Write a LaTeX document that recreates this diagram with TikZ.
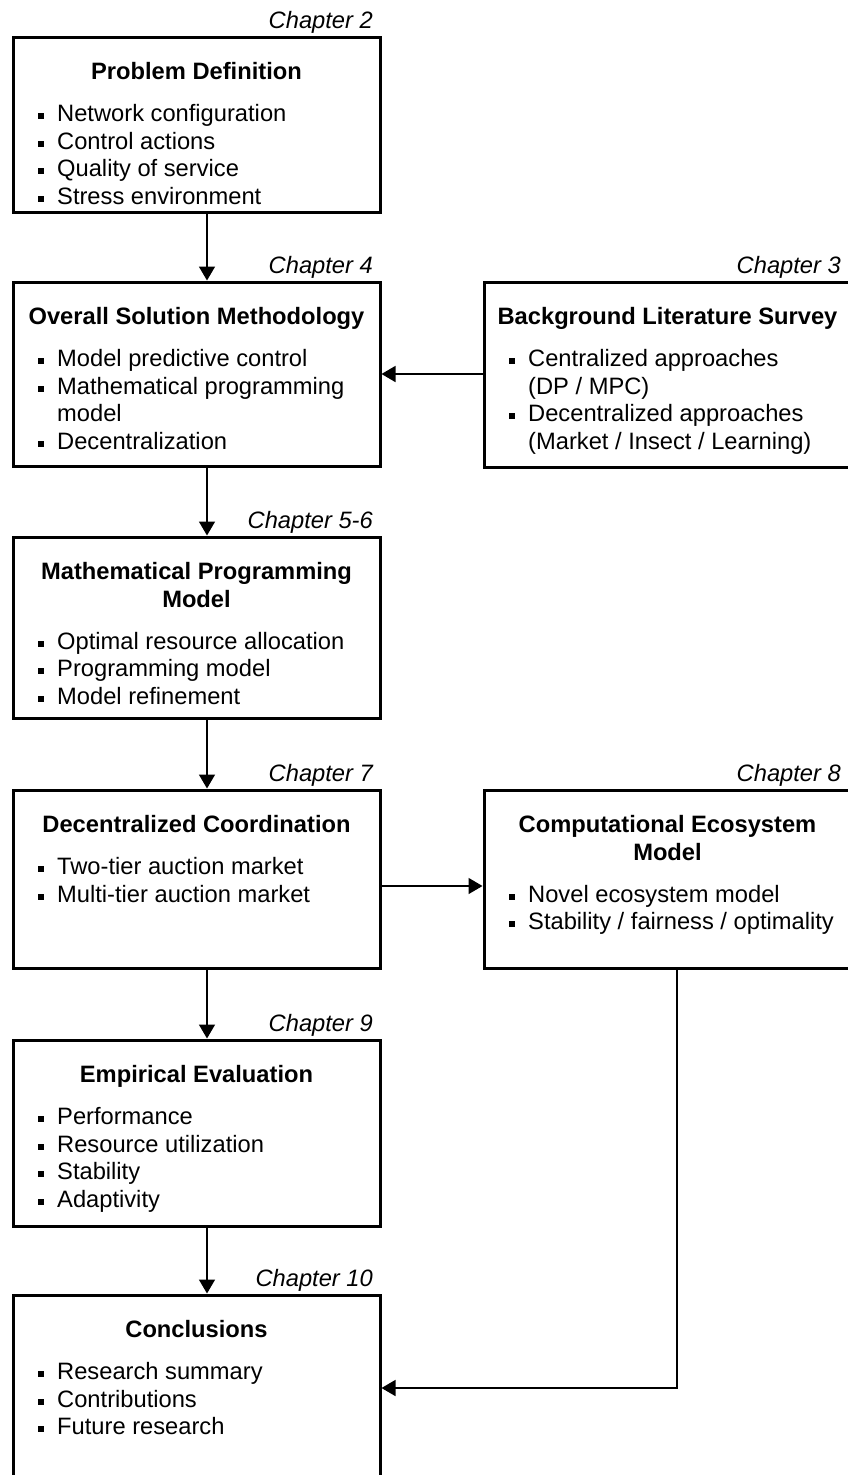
\documentclass[tikz,border=0pt]{standalone}
\usepackage{fontspec}
\setmainfont{Liberation Sans}
\usetikzlibrary{arrows.meta,calc}

\tikzset{
  box/.style={draw, line width=3pt, rectangle, anchor=north west, outer sep=0pt, inner sep=0pt},
  title/.style={font=\bfseries, anchor=base, inner sep=0pt, align=center},
  item/.style={anchor=base west, inner sep=0pt},
  chap/.style={font=\itshape, anchor=base east, inner sep=0pt},
  conn/.style={line width=1.5pt, shorten >=1.5pt, -{Triangle[length=14pt,width=16pt]}},
}

% box: name, left, top, width, height
\newcommand\chbox[5]{\node[box, minimum width=#4pt, minimum height=#5pt] (#1) at (#2,#3) {};}
% title line: name, box, line index, text
\newcommand\ttl[4]{\node[title] (#1) at ($(#2.north)+(0,42.5+27.6*#3)$) {#4};}
% bulleted line: name, box, line index, text
\newcommand\itm[4]{\node[item] (#1) at ($(#2.north west)+(44,84.5+27.6*#3)$)
  {\llap{\rule[2.5pt]{6pt}{6pt}\hspace{13pt}}#4};}
% continuation line of a bullet: name, box, line index, text
\newcommand\cnt[4]{\node[item] (#1) at ($(#2.north west)+(44,84.5+27.6*#3)$) {#4};}

\begin{document}
\begin{tikzpicture}[x=1pt, y=-1pt]
\fontsize{23.7}{27.6}\selectfont
\useasboundingbox (0,0) rectangle (847,1475);

% boxes
\chbox{p}{13}{37}{367}{175}
\chbox{o}{13}{282}{367}{184}
\chbox{bg}{484}{282}{367}{185}
\chbox{m}{13}{537}{367}{181}
\chbox{d}{13}{790}{367}{178}
\chbox{eco}{484}{790}{367}{178}
\chbox{e}{13}{1040}{367}{186}
\chbox{c}{13}{1295}{367}{185}

% chapter labels
\node[chap] (ch2) at ($(p.north east)+(-7,-9)$) {Chapter 2};
\node[chap] (ch4) at ($(o.north east)+(-7,-9)$) {Chapter 4};
\node[chap] (ch3) at ($(bg.north east)+(-10,-9)$) {Chapter 3};
\node[chap] (ch56) at ($(m.north east)+(-7,-9)$) {Chapter 5-6};
\node[chap] (ch7) at ($(d.north east)+(-7,-9)$) {Chapter 7};
\node[chap] (ch8) at ($(eco.north east)+(-10,-9)$) {Chapter 8};
\node[chap] (ch9) at ($(e.north east)+(-7,-9)$) {Chapter 9};
\node[chap] (ch10) at ($(c.north east)+(-7,-9)$) {Chapter 10};

% Problem Definition
\ttl{pt}{p}{0}{Problem Definition}
\itm{p1}{p}{0}{Network configuration}
\itm{p2}{p}{1}{Control actions}
\itm{p3}{p}{2}{Quality of service}
\itm{p4}{p}{3}{Stress environment}

% Overall Solution Methodology
\ttl{ot}{o}{0}{Overall Solution Methodology}
\itm{o1}{o}{0}{Model predictive control}
\itm{o2}{o}{1}{Mathematical programming}
\cnt{o2b}{o}{2}{model}
\itm{o3}{o}{3}{Decentralization}

% Background Literature Survey
\ttl{bt}{bg}{0}{Background Literature Survey}
\itm{b1}{bg}{0}{Centralized approaches}
\cnt{b1b}{bg}{1}{(DP / MPC)}
\itm{b2}{bg}{2}{Decentralized approaches}
\cnt{b2b}{bg}{3}{(Market / Insect / Learning)}

% Mathematical Programming Model
\ttl{mt1}{m}{0}{Mathematical Programming}
\ttl{mt2}{m}{1}{Model}
\itm{m1}{m}{1}{Optimal resource allocation}
\itm{m2}{m}{2}{Programming model}
\itm{m3}{m}{3}{Model refinement}

% Decentralized Coordination
\ttl{dt}{d}{0}{Decentralized Coordination}
\itm{d1}{d}{0}{Two-tier auction market}
\itm{d2}{d}{1}{Multi-tier auction market}

% Computational Ecosystem Model
\ttl{et1}{eco}{0}{Computational Ecosystem}
\ttl{et2}{eco}{1}{Model}
\itm{e1}{eco}{1}{Novel ecosystem model}
\itm{e2}{eco}{2}{Stability / fairness / optimality}

% Empirical Evaluation
\ttl{vt}{e}{0}{Empirical Evaluation}
\itm{v1}{e}{0}{Performance}
\itm{v2}{e}{1}{Resource utilization}
\itm{v3}{e}{2}{Stability}
\itm{v4}{e}{3}{Adaptivity}

% Conclusions
\ttl{ct}{c}{0}{Conclusions}
\itm{c1}{c}{0}{Research summary}
\itm{c2}{c}{1}{Contributions}
\itm{c3}{c}{2}{Future research}

% connectors
\coordinate (spine) at (207,0);
\draw[conn] (p.south -| spine) -- (o.north -| spine);
\draw[conn] (o.south -| spine) -- (m.north -| spine);
\draw[conn] (m.south -| spine) -- (d.north -| spine);
\draw[conn] (d.south -| spine) -- (e.north -| spine);
\draw[conn] (e.south -| spine) -- (c.north -| spine);

\coordinate (yb) at (0,374);
\draw[conn] (bg.west |- yb) -- (o.east |- yb);
\coordinate (yd) at (0,886);
\draw[conn] (d.east |- yd) -- (eco.west |- yd);
\coordinate (turn) at (677,1388);
\draw[conn] (eco.south -| turn) -- (turn) -- (c.east |- turn);
\end{tikzpicture}
\end{document}
